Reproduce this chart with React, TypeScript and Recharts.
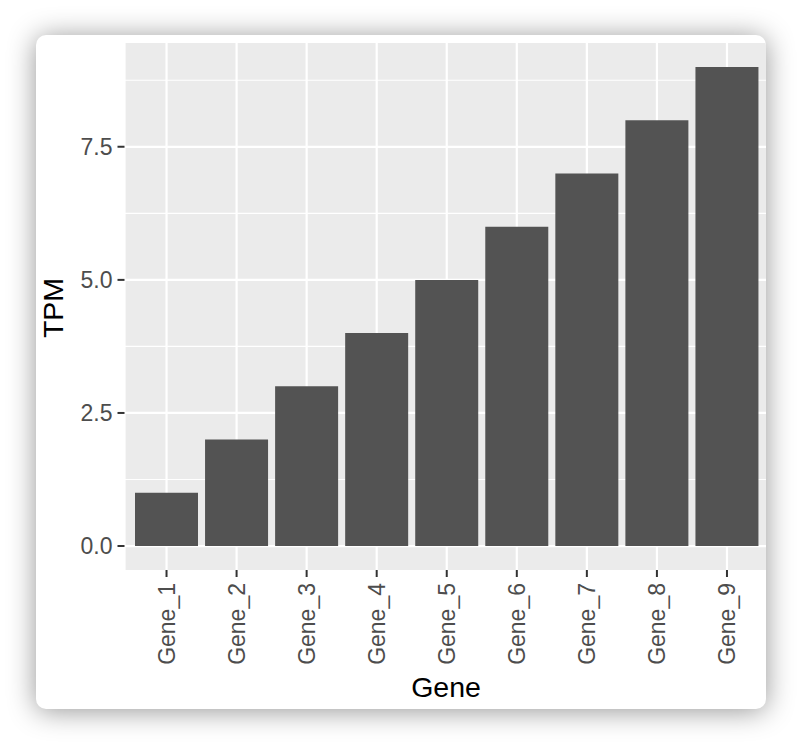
import React from "react";
import { BarChart, Bar, XAxis, YAxis, CartesianGrid } from "recharts";

const genes = ["Gene_1", "Gene_2", "Gene_3", "Gene_4", "Gene_5", "Gene_6", "Gene_7", "Gene_8", "Gene_9"];
const tpmValues = [1, 2, 3, 4, 5, 6, 7, 8, 9];
const majorY = [0, 2.5, 5, 7.5];
const minorY = [1.25, 3.75, 6.25, 8.75];
const yDomain: [number, number] = [-0.45, 9.45];

const data = genes.map((g, i) => ({ gene: g, tpm: tpmValues[i] }));

const FONT = "'Liberation Sans', Arial, Helvetica, sans-serif";

const XTick = (props: any) => {
  const { x, y, payload } = props;
  return (
    <text
      x={x}
      y={y}
      transform={`rotate(-90, ${x}, ${y})`}
      dy="0.35em"
      textAnchor="end"
      fill="#4D4D4D"
      fontSize={23}
      fontFamily={FONT}
    >
      {payload.value}
    </text>
  );
};

export default function App() {
  return (
    <div style={{ position: "absolute", left: 0, top: 0, width: 802, height: 746, background: "#ffffff", overflow: "hidden" }}>
      <div
        style={{
          position: "absolute",
          left: 36,
          top: 35,
          width: 730,
          height: 674,
          borderRadius: 10,
          background: "#ffffff",
          boxShadow: "0 2px 28px rgba(0,0,0,0.42)",
          overflow: "hidden",
        }}
      >
        <div style={{ position: "absolute", left: -36, top: -35, width: 802, height: 746 }}>
          <BarChart
            width={802}
            height={746}
            data={data}
            margin={{ top: 43, right: 33, bottom: 0, left: 0 }}
            barCategoryGap="5%"
          >
            <CartesianGrid
              fill="#EBEBEB"
              stroke="#FFFFFF"
              strokeWidth={1.1}
              vertical={false}
              horizontalValues={minorY}
            />
            <CartesianGrid
              fill="none"
              stroke="#FFFFFF"
              strokeWidth={2.2}
              horizontalValues={majorY}
            />
            <XAxis
              dataKey="gene"
              interval={0}
              padding={{ left: 7, right: 7 }}
              height={176}
              axisLine={false}
              tickSize={7}
              tickMargin={6}
              tickLine={{ stroke: "#333333", strokeWidth: 2 }}
              tick={<XTick />}
            />
            <YAxis
              type="number"
              domain={yDomain}
              allowDataOverflow
              ticks={majorY}
              tickFormatter={(v: number) => v.toFixed(1)}
              width={124.5}
              axisLine={false}
              tickSize={7}
              tickMargin={5}
              tickLine={{ stroke: "#333333", strokeWidth: 2 }}
              tick={{ fill: "#4D4D4D", fontSize: 23, fontFamily: FONT }}
            />
            <Bar dataKey="tpm" fill="#535353" isAnimationActive={false} />
          </BarChart>
        </div>
      </div>
      <svg width={802} height={746} style={{ position: "absolute", left: 0, top: 0, pointerEvents: "none" }}>
        <text
          x={63}
          y={308}
          transform="rotate(-90, 63, 308)"
          textAnchor="middle"
          fontSize={28.5}
          fontFamily={FONT}
          fill="#000000"
        >
          TPM
        </text>
        <text x={446} y={697} textAnchor="middle" fontSize={28.5} fontFamily={FONT} fill="#000000">
          Gene
        </text>
      </svg>
    </div>
  );
}
